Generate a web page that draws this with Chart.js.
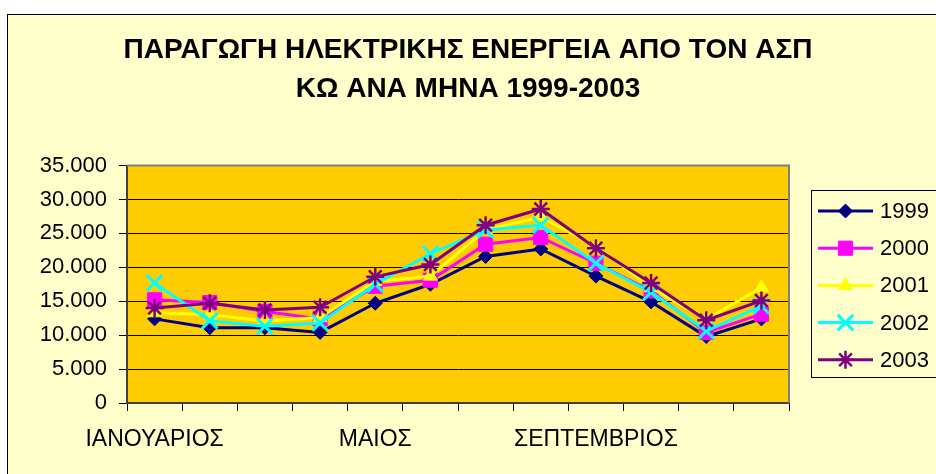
<!DOCTYPE html>
<html>
<head>
<meta charset="utf-8">
<title>ΠΑΡΑΓΩΓΗ ΗΛΕΚΤΡΙΚΗΣ ΕΝΕΡΓΕΙΑ ΑΠΟ ΤΟΝ ΑΣΠ ΚΩ</title>
<script src="https://cdn.jsdelivr.net/npm/chart.js@4/dist/chart.umd.min.js"></script>
<style>
  html, body { margin: 0; padding: 0; background: #ffffff; }
  canvas { display: block; }
</style>
</head>
<body>
<canvas id="chart" width="936" height="474"></canvas>
<script>
// Monthly production per year
const months = [
  "ΙΑΝΟΥΑΡΙΟΣ", "ΦΕΒΡΟΥΑΡΙΟΣ", "ΜΑΡΤΙΟΣ", "ΑΠΡΙΛΙΟΣ", "ΜΑΙΟΣ", "ΙΟΥΝΙΟΣ",
  "ΙΟΥΛΙΟΣ", "ΑΥΓΟΥΣΤΟΣ", "ΣΕΠΤΕΜΒΡΙΟΣ", "ΟΚΤΩΒΡΙΟΣ", "ΝΟΕΜΒΡΙΟΣ", "ΔΕΚΕΜΒΡΙΟΣ"
];
const years = ["1999", "2000", "2001", "2002", "2003"];

const values1999 = [12400, 11100, 11100, 10400, 14700, 17500, 21600, 22700, 18700, 14900, 9800, 12400];
const values2000 = [15200, 14800, 13500, 12400, 17200, 18100, 23400, 24400, 20600, 16500, 10400, 13100];
const values2001 = [13300, 13000, 12100, 12600, 17900, 18700, 25500, 27400, 23100, 17000, 12300, 17000];
const values2002 = [17700, 12100, 11300, 11800, 17500, 22000, 25500, 26200, 20600, 16300, 10600, 14300];
const values2003 = [14000, 14700, 13700, 14100, 18600, 20400, 26200, 28600, 22800, 17700, 12200, 15100];

const titleLines = ["ΠΑΡΑΓΩΓΗ ΗΛΕΚΤΡΙΚΗΣ ΕΝΕΡΓΕΙΑ ΑΠΟ ΤΟΝ ΑΣΠ", "ΚΩ ΑΝΑ ΜΗΝΑ 1999-2003"];

// Excel-like series styling
const seriesStyle = [
  { color: "#000080", pointStyle: "rectRot", radius: 7, pointBorderWidth: 1 },
  { color: "#ff00ff", pointStyle: "rect", radius: 10, pointBorderWidth: 1 },
  { color: "#ffff00", pointStyle: "triangle", radius: 8, pointBorderWidth: 1 },
  { color: "#00ffff", pointStyle: "crossRot", radius: 11, pointBorderWidth: 3 },
  { color: "#800080", pointStyle: "star", radius: 9, pointBorderWidth: 2.5 }
];
const allValues = [values1999, values2000, values2001, values2002, values2003];

const FONT = "'Liberation Sans', Arial, sans-serif";
Chart.defaults.font.family = FONT;
Chart.defaults.color = "#000000";

function formatThousands(v) {
  return String(v).replace(/\B(?=(\d{3})+(?!\d))/g, ".");
}

const datasets = years.map(function(year, i) {
  const s = seriesStyle[i];
  return {
    label: year,
    data: allValues[i],
    borderColor: s.color,
    backgroundColor: s.color,
    pointBackgroundColor: s.color,
    pointBorderColor: s.color,
    pointStyle: s.pointStyle,
    pointRadius: s.radius,
    pointHoverRadius: s.radius,
    pointBorderWidth: s.pointBorderWidth,
    borderWidth: 3,
    tension: 0,
    fill: false,
    order: years.length - i // later years drawn on top, like Excel
  };
});

// Backgrounds: page frame and the orange plot area
const backgroundPlugin = {
  id: "excelBackground",
  beforeDraw: function(chart) {
    const ctx = chart.ctx;
    const a = chart.chartArea;
    ctx.save();
    ctx.fillStyle = "#ffffff";
    ctx.fillRect(0, 0, chart.width, chart.height);
    ctx.fillStyle = "#ffffcc";
    ctx.fillRect(8, 14.5, chart.width, chart.height);
    ctx.strokeStyle = "#000000";
    ctx.lineWidth = 1;
    ctx.strokeRect(7.5, 14.5, chart.width + 10, chart.height + 10);
    ctx.fillStyle = "#ffcc00";
    ctx.fillRect(a.left, a.top, a.right - a.left, a.bottom - a.top);
    ctx.restore();
  },
  beforeDatasetsDraw: function(chart) {
    // grey frame on top and right of the plot area
    const ctx = chart.ctx;
    const a = chart.chartArea;
    ctx.save();
    ctx.strokeStyle = "#808080";
    ctx.lineWidth = 2;
    ctx.beginPath();
    ctx.moveTo(a.left, a.top);
    ctx.lineTo(a.right, a.top);
    ctx.lineTo(a.right, a.bottom);
    ctx.stroke();
    ctx.restore();
  }
};

// Excel style legend: short line with the marker in the middle, boxed
const legendPlugin = {
  id: "excelLegend",
  afterDraw: function(chart) {
    const ctx = chart.ctx;
    const boxLeft = 811, boxTop = 190.5, boxBottom = 377.5;
    const rowTop = 211, rowStep = 37.2;
    ctx.save();
    ctx.strokeStyle = "#000000";
    ctx.lineWidth = 1;
    ctx.strokeRect(boxLeft + 0.5, boxTop, chart.width, boxBottom - boxTop);
    chart.data.datasets.forEach(function(ds, i) {
      const y = rowTop + i * rowStep;
      ctx.strokeStyle = ds.borderColor;
      ctx.lineWidth = 3;
      ctx.beginPath();
      ctx.moveTo(818, y);
      ctx.lineTo(873, y);
      ctx.stroke();
      ctx.fillStyle = ds.pointBackgroundColor;
      ctx.strokeStyle = ds.pointBorderColor;
      ctx.lineWidth = ds.pointBorderWidth;
      Chart.helpers.drawPoint(ctx, {
        pointStyle: ds.pointStyle,
        radius: ds.pointRadius,
        rotation: 0,
        borderWidth: ds.pointBorderWidth
      }, 845.5, y);
      ctx.fillStyle = "#000000";
      ctx.font = "22px " + FONT;
      ctx.textAlign = "left";
      ctx.textBaseline = "middle";
      ctx.fillText(ds.label, 880, y + 1);
    });
    ctx.restore();
  }
};

new Chart(document.getElementById("chart"), {
  type: "line",
  data: { labels: months, datasets: datasets },
  plugins: [backgroundPlugin, legendPlugin],
  options: {
    responsive: false,
    animation: false,
    events: [],
    layout: { padding: { top: 10, left: 0, right: 0, bottom: 0 } },
    plugins: {
      legend: { display: false },
      tooltip: { enabled: false },
      title: {
        display: true,
        text: titleLines,
        color: "#000000",
        font: { family: FONT, size: 28, weight: "bold", lineHeight: 1.42 },
        padding: { top: 20, bottom: 56 }
      }
    },
    scales: {
      x: {
        type: "category",
        offset: true,
        grid: {
          offset: true,
          drawOnChartArea: false,
          tickLength: 8,
          tickColor: "#000000"
        },
        border: { color: "#404040", width: 2 },
        ticks: {
          autoSkip: false,
          maxRotation: 0,
          padding: 15,
          font: { size: 23 },
          callback: function(value, index) {
            return index % 4 === 0 ? this.getLabelForValue(value) : "";
          }
        },
        afterFit: function(scale) { scale.height = 71; }
      },
      y: {
        min: 0,
        max: 35000,
        grid: {
          color: "#000000",
          lineWidth: 1,
          tickLength: 8,
          tickColor: "#000000"
        },
        border: { color: "#404040", width: 2 },
        ticks: {
          stepSize: 5000,
          padding: 12,
          font: { size: 22 },
          callback: function(value) { return formatThousands(value); }
        },
        afterFit: function(scale) { scale.width = 127; }
      },
      spacer: {
        type: "linear",
        position: "right",
        display: true,
        grid: { display: false, drawTicks: false },
        border: { display: false },
        ticks: { display: false },
        afterFit: function(scale) { scale.width = 147; }
      }
    }
  }
});
</script>
</body>
</html>
